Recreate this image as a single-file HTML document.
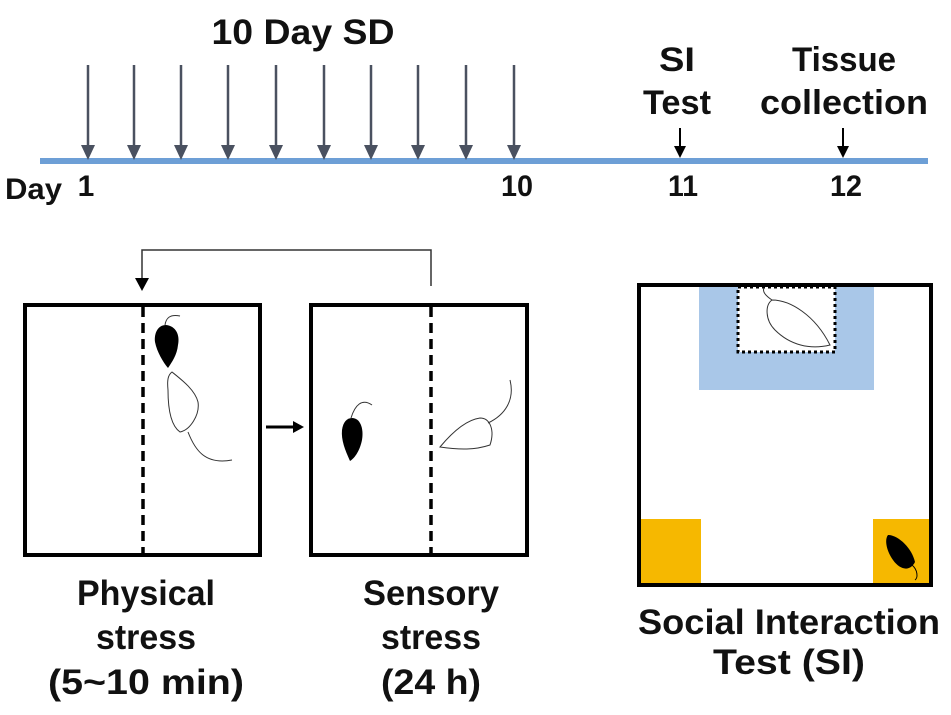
<!DOCTYPE html>
<html><head><style>
body{margin:0;background:#fff;}
svg text{font-family:"Liberation Sans",sans-serif;font-weight:bold;fill:#111;}
</style></head><body>
<svg width="951" height="710" viewBox="0 0 951 710" xmlns="http://www.w3.org/2000/svg">
<text x="303" y="44" font-size="35" text-anchor="middle" textLength="183" lengthAdjust="spacingAndGlyphs">10 Day SD</text>
<line x1="40" y1="161" x2="928" y2="161" stroke="#6d9fd6" stroke-width="6"/>
<g stroke="#4a5160" stroke-width="2.5" fill="#4a5160">
<g id="a"><line x1="88" y1="65" x2="88" y2="148"/><path d="M81,145 L95,145 L88,160z" stroke="none"/></g>
<use href="#a" x="46"/><use href="#a" x="93"/><use href="#a" x="140"/><use href="#a" x="188"/>
<use href="#a" x="236"/><use href="#a" x="283"/><use href="#a" x="330"/><use href="#a" x="378"/><use href="#a" x="426"/>
</g>
<g stroke="#000" stroke-width="2" fill="#000">
<line x1="680" y1="128" x2="680" y2="150"/><path d="M674,146 L686,146 L680,158z" stroke="none"/>
<line x1="843" y1="128" x2="843" y2="150"/><path d="M837,146 L849,146 L843,158z" stroke="none"/>
</g>
<text x="677" y="71" font-size="34" text-anchor="middle" textLength="36" lengthAdjust="spacingAndGlyphs">SI</text>
<text x="677" y="114" font-size="34" text-anchor="middle" textLength="68" lengthAdjust="spacingAndGlyphs">Test</text>
<text x="844" y="71" font-size="34" text-anchor="middle" textLength="104" lengthAdjust="spacingAndGlyphs">Tissue</text>
<text x="844" y="114" font-size="34" text-anchor="middle" textLength="168" lengthAdjust="spacingAndGlyphs">collection</text>
<text x="5" y="199" font-size="30" textLength="57" lengthAdjust="spacingAndGlyphs">Day</text>
<text x="86" y="196" font-size="30" text-anchor="middle">1</text>
<text x="517" y="196" font-size="30" text-anchor="middle" textLength="32" lengthAdjust="spacingAndGlyphs">10</text>
<text x="683" y="196" font-size="30" text-anchor="middle" textLength="30" lengthAdjust="spacingAndGlyphs">11</text>
<text x="846" y="196" font-size="30" text-anchor="middle" textLength="32" lengthAdjust="spacingAndGlyphs">12</text>
<!-- boxes -->
<rect x="25" y="305" width="235" height="250" fill="none" stroke="#000" stroke-width="4"/>
<rect x="311" y="305" width="216" height="250" fill="none" stroke="#000" stroke-width="4"/>
<line x1="143" y1="307" x2="143" y2="553" stroke="#000" stroke-width="3.5" stroke-dasharray="10,6"/>
<line x1="431" y1="307" x2="431" y2="553" stroke="#000" stroke-width="3.5" stroke-dasharray="10,6"/>
<polyline points="431,286 431,250 142,250 142,282" fill="none" stroke="#333" stroke-width="1.5"/>
<path d="M135,278 L149,278 L142,291z" fill="#000"/>
<line x1="266" y1="427" x2="296" y2="427" stroke="#000" stroke-width="3"/>
<path d="M293,421 L304,427 L293,433z" fill="#000"/>
<!-- mice -->
<path d="M166,325 C176,326 180,335 178,345 C177,355 172,362 168,368 C163,362 157,352 155,342 C154,333 158,325 166,325z" fill="#000"/>
<path d="M165,325 C166,318 170,314 180,316" fill="none" stroke="#333"/>
<path d="M172,372 C182,380 195,390 198,402 C200,415 190,430 180,432 C170,425 168,405 168,390 C167,380 168,375 172,372z" fill="none" stroke="#333"/>
<path d="M188,432 C195,450 205,465 232,460" fill="none" stroke="#333"/>
<path d="M352,418 C360,418 364,428 362,440 C360,450 355,458 350,461 C345,450 341,440 342,430 C343,422 347,418 352,418z" fill="#000"/>
<path d="M351,418 C355,405 362,398 372,405" fill="none" stroke="#333"/>
<path d="M440,447 C450,435 465,420 480,418 C490,418 495,430 490,445 C475,450 460,450 440,447z" fill="none" stroke="#333"/>
<path d="M488,423 C505,415 515,400 510,380" fill="none" stroke="#333"/>
<!-- SI box -->
<rect x="699" y="287" width="175" height="103" fill="#a9c7e8"/>
<rect x="738" y="287" width="97" height="65" fill="#fff" stroke="#000" stroke-width="3" stroke-dasharray="3,3"/>
<path d="M772,300 C790,300 815,315 830,345 C810,350 790,345 775,330 C765,320 765,305 772,300z" fill="none" stroke="#333"/>
<path d="M772,300 C766,296 762,292 764,288" fill="none" stroke="#333"/>
<rect x="640" y="519" width="61" height="64" fill="#f6b800"/>
<rect x="873" y="519" width="56" height="64" fill="#f6b800"/>
<path d="M888,535 C898,535 912,548 915,562 C910,572 900,570 893,560 C887,552 884,540 888,535z" fill="#000"/>
<path d="M912,565 C918,570 918,578 915,580" fill="none" stroke="#000"/>
<rect x="639" y="285" width="292" height="300" fill="none" stroke="#000" stroke-width="4"/>
<text x="146" y="605" font-size="35" text-anchor="middle" textLength="138" lengthAdjust="spacingAndGlyphs">Physical</text>
<text x="146" y="649" font-size="35" text-anchor="middle" textLength="100" lengthAdjust="spacingAndGlyphs">stress</text>
<text x="146" y="694" font-size="35" text-anchor="middle" textLength="196" lengthAdjust="spacingAndGlyphs">(5~10 min)</text>
<text x="431" y="605" font-size="35" text-anchor="middle" textLength="136" lengthAdjust="spacingAndGlyphs">Sensory</text>
<text x="431" y="649" font-size="35" text-anchor="middle" textLength="100" lengthAdjust="spacingAndGlyphs">stress</text>
<text x="431" y="694" font-size="35" text-anchor="middle" textLength="100" lengthAdjust="spacingAndGlyphs">(24 h)</text>
<text x="789" y="634" font-size="35" text-anchor="middle" textLength="302" lengthAdjust="spacingAndGlyphs">Social Interaction</text>
<text x="789" y="674" font-size="35" text-anchor="middle" textLength="152" lengthAdjust="spacingAndGlyphs">Test (SI)</text>
</svg>
</body></html>
